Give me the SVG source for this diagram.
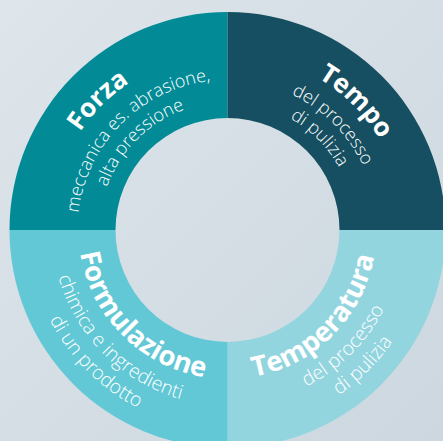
<svg xmlns="http://www.w3.org/2000/svg" xmlns:xlink="http://www.w3.org/1999/xlink" width="443" height="441" viewBox="0 0 443 441">
<style>
.t{font-family:"Open Sans","Noto Sans","Liberation Sans",sans-serif;font-weight:700;font-size:26px;fill:#fff}
.s{font-family:"Open Sans","Noto Sans","Liberation Sans",sans-serif;font-weight:300;font-size:18px;fill:#fff}
.tb{font-size:27.5px}
.sb{font-size:19.5px}
</style>
<defs>
<linearGradient id="bg" x1="0" y1="0" x2="1" y2="1">
<stop offset="0" stop-color="#dee5eb"/>
<stop offset="1" stop-color="#ccd7df"/>
</linearGradient>
<path id="tl1" d="M 102.34 355.16 A 177 177 0 0 1 352.66 104.84"/>
<path id="tl2" d="M 121.43 336.07 A 150 150 0 0 1 333.57 123.93"/>
<path id="tl3" d="M 136.99 320.51 A 128 128 0 0 1 318.01 139.49"/>
<path id="tr1" d="M 102.34 104.84 A 177 177 0 0 1 352.66 355.16"/>
<path id="tr2" d="M 121.43 123.93 A 150 150 0 0 1 333.57 336.07"/>
<path id="tr3" d="M 136.99 139.49 A 128 128 0 0 1 318.01 320.51"/>
<path id="bl1" d="M 122.14 124.64 A 149 149 0 0 0 332.86 335.36"/>
<path id="bl2" d="M 103.05 105.55 A 176 176 0 0 0 351.95 354.45"/>
<path id="bl3" d="M 86.08 88.58 A 200 200 0 0 0 368.92 371.42"/>
<path id="br1" d="M 122.14 335.36 A 149 149 0 0 0 332.86 124.64"/>
<path id="br2" d="M 103.05 354.45 A 176 176 0 0 0 351.95 105.55"/>
<path id="br3" d="M 86.08 371.42 A 200 200 0 0 0 368.92 88.58"/>
</defs>
<rect width="443" height="441" fill="url(#bg)"/>
<g id="forza">
<path d="M 9.5 230 A 218 218 0 0 1 227.5 12 L 227.5 118 A 112 112 0 0 0 115.5 230 Z" fill="#028b96"/>
<text class="t" text-anchor="middle"><textPath xlink:href="#tl1" href="#tl1" startOffset="50%">Forza</textPath></text>
<text class="s" text-anchor="middle"><textPath xlink:href="#tl2" href="#tl2" startOffset="50%">meccanica es. abrasione,</textPath></text>
<text class="s" text-anchor="middle"><textPath xlink:href="#tl3" href="#tl3" startOffset="50%">alta pressione</textPath></text>
</g>
<g id="tempo">
<path d="M 227.5 12 A 218 218 0 0 1 445.5 230 L 339.5 230 A 112 112 0 0 0 227.5 118 Z" fill="#164f61"/>
<text class="t" text-anchor="middle"><textPath xlink:href="#tr1" href="#tr1" startOffset="50%">Tempo</textPath></text>
<text class="s" text-anchor="middle"><textPath xlink:href="#tr2" href="#tr2" startOffset="50%">del processo</textPath></text>
<text class="s" text-anchor="middle"><textPath xlink:href="#tr3" href="#tr3" startOffset="50%">di pulizia</textPath></text>
</g>
<g id="temperatura">
<path d="M 445.5 230 A 218 218 0 0 1 227.5 448 L 227.5 342 A 112 112 0 0 0 339.5 230 Z" fill="#93d5df"/>
<text class="t tb" text-anchor="middle"><textPath xlink:href="#br1" href="#br1" startOffset="50%">Temperatura</textPath></text>
<text class="s sb" text-anchor="middle"><textPath xlink:href="#br2" href="#br2" startOffset="50%">del processo</textPath></text>
<text class="s sb" text-anchor="middle"><textPath xlink:href="#br3" href="#br3" startOffset="50%">di pulizia</textPath></text>
</g>
<g id="formulazione">
<path d="M 227.5 448 A 218 218 0 0 1 9.5 230 L 115.5 230 A 112 112 0 0 0 227.5 342 Z" fill="#62c8d5"/>
<text class="t tb" text-anchor="middle"><textPath xlink:href="#bl1" href="#bl1" startOffset="50%">Formulazione</textPath></text>
<text class="s sb" text-anchor="middle"><textPath xlink:href="#bl2" href="#bl2" startOffset="50%">chimica e ingredienti</textPath></text>
<text class="s sb" text-anchor="middle"><textPath xlink:href="#bl3" href="#bl3" startOffset="50%">di un prodotto</textPath></text>
</g>
<g id="connectors"/>
</svg>
